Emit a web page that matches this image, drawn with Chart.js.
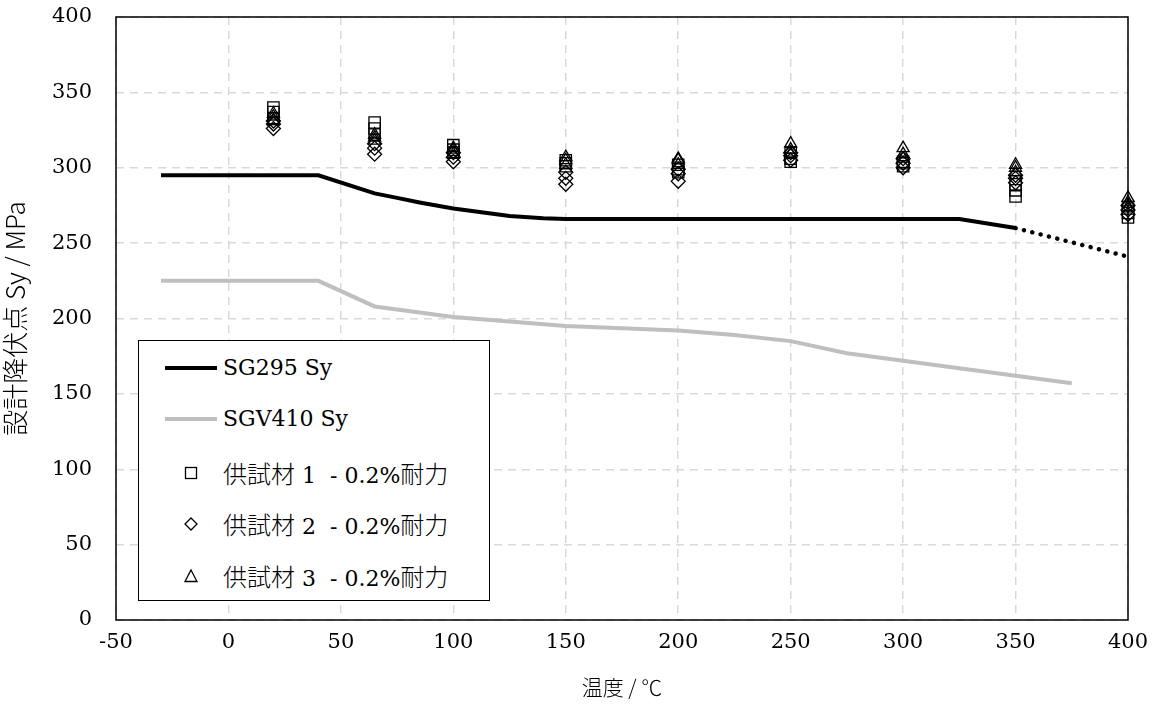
<!DOCTYPE html>
<html>
<head>
<meta charset="utf-8">
<script src="https://cdn.jsdelivr.net/npm/chart.js@4"></script>
<style>
  html, body { margin: 0; padding: 0; background: #fff; }
  #wrap { position: relative; width: 1161px; height: 711px; }
  #legend {
    position: absolute; left: 138px; top: 340px; width: 352px; height: 261px;
    border: 1.5px solid #000; background: #fff; box-sizing: border-box;
    font-family: "DejaVu Serif", "Noto Sans CJK JP", serif; font-size: 22px; color: #000;
  }
  .item { position: absolute; left: 0; height: 30px; line-height: 30px; white-space: nowrap; }
  .item .sym { position: absolute; left: 22px; top: 0; width: 56px; height: 30px; }
  .item .txt { position: absolute; left: 84px; top: 0; }
  .jp { font-family: "Noto Sans CJK JP", sans-serif; font-weight: 300; font-size: 24px; }
</style>
</head>
<body>
<div id="wrap">
  <canvas id="chart" width="1161" height="711"></canvas>
  <div id="legend"></div>
</div>
<script>
// Design yield point curves
const sg295Temps = [-30, 40, 65, 75, 85, 100, 115, 125, 140, 150, 200, 250, 300, 325, 350];
const sg295Values = [295, 295, 283, 280, 277, 273, 270, 268, 266.5, 266, 266, 266, 266, 266, 260];
const sg295ExtTemps = [350, 400];
const sg295ExtValues = [260, 241];

const sgv410Temps = [-30, 40, 65, 100, 125, 150, 200, 225, 250, 275, 300, 325, 350, 375];
const sgv410Values = [225, 225, 208, 201, 198, 195, 192, 189, 185, 177, 172, 167, 162, 157];

// Test results (0.2% proof stress), several tests per temperature
const testTemps = [20, 65, 100, 150, 200, 250, 300, 350, 400];
const spec1 = [[340, 337, 333], [330, 326, 322], [315, 312, 310], [305, 303, 301], [302, 299, 297], [310, 306, 304], [304, 301, 303], [281, 285, 289], [267, 270, 273]];
const spec2 = [[326, 329, 331], [309, 313, 316], [304, 307, 310], [289, 293, 297], [291, 296, 299], [305, 308, 310], [300, 303, 306], [290, 293, 295], [269, 272, 275]];
const spec3 = [[334, 331, 336], [320, 318, 322], [312, 309, 313], [305, 302, 307], [305, 302, 306], [316, 312, 309], [313, 309, 306], [302, 297, 300], [280, 277, 274]];

const xTicks = [-50, 0, 50, 100, 150, 200, 250, 300, 350, 400];
const yTicks = [0, 50, 100, 150, 200, 250, 300, 350, 400];

function toPoints(xs, ys) {
    return xs.map(function (x, i) { return { x: x, y: ys[i] }; });
}

function specPoints(spec) {
    const pts = [];
    testTemps.forEach(function (t, i) {
        spec[i].forEach(function (v) { pts.push({ x: t, y: v }); });
    });
    return pts;
}

const serif = '"DejaVu Serif", "Noto Sans CJK JP", serif';
const jpFont = '"Noto Sans CJK JP", sans-serif';

// Frame round the plot area
const framePlugin = {
    id: 'frame',
    beforeDatasetsDraw: function (chart) {
        const a = chart.chartArea;
        const ctx = chart.ctx;
        ctx.save();
        ctx.strokeStyle = '#000';
        ctx.lineWidth = 1.5;
        ctx.strokeRect(a.left, a.top, a.right - a.left, a.bottom - a.top);
        ctx.restore();
    }
};

const markerBase = {
    type: 'scatter',
    showLine: false,
    clip: false,
    pointBackgroundColor: 'rgba(0,0,0,0)',
    pointBorderColor: '#000',
    pointBorderWidth: 1.3,
    pointRadius: 7,
    pointHoverRadius: 7
};

new Chart(document.getElementById('chart'), {
    type: 'line',
    data: {
        datasets: [
            {
                label: 'SG295 Sy',
                data: toPoints(sg295Temps, sg295Values),
                borderColor: '#000',
                borderWidth: 4,
                pointRadius: 0,
                tension: 0
            },
            {
                label: 'SG295 ext',
                data: toPoints(sg295ExtTemps, sg295ExtValues),
                borderColor: '#000',
                borderWidth: 4.5,
                borderDash: [0.1, 8.5],
                borderCapStyle: 'round',
                pointRadius: 0
            },
            {
                label: 'SGV410 Sy',
                data: toPoints(sgv410Temps, sgv410Values),
                borderColor: '#bfbfbf',
                borderWidth: 4,
                pointRadius: 0,
                tension: 0
            },
            Object.assign({}, markerBase, { label: '供試材 1 - 0.2%耐力', data: specPoints(spec1), pointStyle: 'rect', pointRadius: 8 }),
            Object.assign({}, markerBase, { label: '供試材 2 - 0.2%耐力', data: specPoints(spec2), pointStyle: 'rectRot' }),
            Object.assign({}, markerBase, { label: '供試材 3 - 0.2%耐力', data: specPoints(spec3), pointStyle: 'triangle' })
        ]
    },
    options: {
        responsive: false,
        animation: false,
        layout: { padding: { top: 17, right: 33, left: 0, bottom: 0 } },
        plugins: { legend: { display: false }, tooltip: { enabled: false } },
        scales: {
            x: {
                type: 'linear',
                min: -50,
                max: 400,
                afterBuildTicks: function (scale) { scale.ticks = xTicks.map(function (v) { return { value: v }; }); },
                afterFit: function (scale) { scale.height = 91; scale.paddingLeft = 0; scale.paddingRight = 0; },
                grid: { color: '#d9d9d9', lineWidth: 1.5, drawTicks: false },
                border: { display: false, dash: [8, 6] },
                ticks: { color: '#000', padding: 10, font: { family: serif, size: 21 }, maxRotation: 0 },
                title: { display: true, text: '温度 / ℃', color: '#000', font: { family: jpFont, size: 21, weight: 300 }, padding: { top: 2, bottom: 11 } }
            },
            y: {
                min: 0,
                max: 400,
                afterBuildTicks: function (scale) { scale.ticks = yTicks.map(function (v) { return { value: v }; }); },
                afterFit: function (scale) { scale.width = 116; scale.paddingTop = 0; scale.paddingBottom = 0; },
                grid: { color: '#d9d9d9', lineWidth: 1.5, drawTicks: false },
                border: { display: false, dash: [8, 6] },
                ticks: { color: '#000', padding: 24, font: { family: serif, size: 21 } },
                title: { display: true, text: '設計降伏点 Sy / MPa', color: '#000', font: { family: jpFont, size: 26, weight: 300 }, padding: { top: 0, bottom: 0 } }
            }
        }
    },
    plugins: [framePlugin]
});

// Legend inside the plot area, drawn as html text
const legendItems = [
    { text: 'SG295 Sy', sym: '<svg width="56" height="30"><line x1="4" y1="15" x2="56" y2="15" stroke="#000" stroke-width="4"/></svg>' },
    { text: 'SGV410 Sy', sym: '<svg width="56" height="30"><line x1="4" y1="15" x2="56" y2="15" stroke="#bfbfbf" stroke-width="4"/></svg>' },
    { text: '<span class="jp">供試材</span> 1&nbsp; -&nbsp;0.2%<span class="jp">耐力</span>', sym: '<svg width="56" height="30"><rect x="24.5" y="9.5" width="11" height="11" fill="none" stroke="#000" stroke-width="1.3"/></svg>' },
    { text: '<span class="jp">供試材</span> 2&nbsp; -&nbsp;0.2%<span class="jp">耐力</span>', sym: '<svg width="56" height="30"><polygon points="30,9 36,15 30,21 24,15" fill="none" stroke="#000" stroke-width="1.3"/></svg>' },
    { text: '<span class="jp">供試材</span> 3&nbsp; -&nbsp;0.2%<span class="jp">耐力</span>', sym: '<svg width="56" height="30"><polygon points="30,9 36,20.5 24,20.5" fill="none" stroke="#000" stroke-width="1.3"/></svg>' }
];
const tops = [12, 63, 117, 168, 220];
const legend = document.getElementById('legend');
legendItems.forEach(function (item, i) {
    const div = document.createElement('div');
    div.className = 'item';
    div.style.top = tops[i] + 'px';
    div.innerHTML = '<span class="sym">' + item.sym + '</span><span class="txt">' + item.text + '</span>';
    legend.appendChild(div);
});
</script>
</body>
</html>
